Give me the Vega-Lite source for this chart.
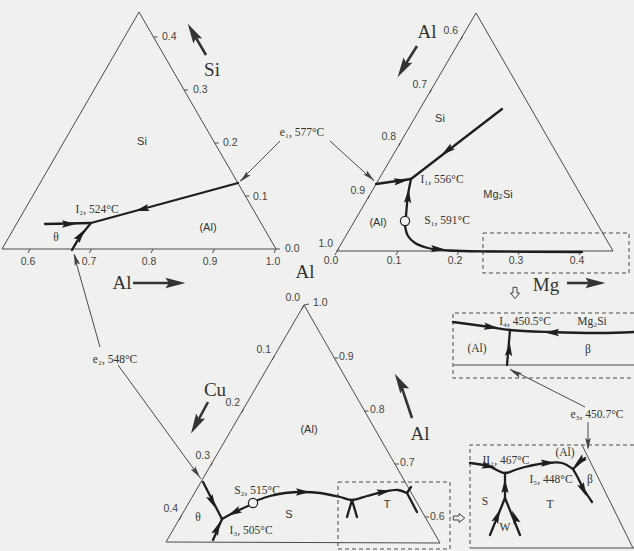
{
"$schema":"https://vega.github.io/schema/vega-lite/v6.json",
"width":634,"height":551,"padding":0,"autosize":{"type":"none"},
"background":"#f0f1ee",
"config":{"view":{"stroke":null}},
"datasets":{
"thin":[
{"id":"t1","o":0,"x":139,"y":12},{"id":"t1","o":1,"x":2,"y":249},{"id":"t1","o":2,"x":276,"y":249},{"id":"t1","o":3,"x":139,"y":12},
{"id":"t2","o":0,"x":476,"y":13},{"id":"t2","o":1,"x":337,"y":251},{"id":"t2","o":2,"x":613,"y":251},{"id":"t2","o":3,"x":476,"y":13},
{"id":"t3","o":0,"x":304,"y":305},{"id":"t3","o":1,"x":166,"y":542},{"id":"t3","o":2,"x":440,"y":543},{"id":"t3","o":3,"x":304,"y":305},
{"id":"l1","o":0,"x":280,"y":141},{"id":"l1","o":1,"x":240,"y":181},
{"id":"l2","o":0,"x":330,"y":141},{"id":"l2","o":1,"x":374,"y":181},
{"id":"l3","o":0,"x":100,"y":347},{"id":"l3","o":1,"x":74,"y":255},
{"id":"l4","o":0,"x":118,"y":365},{"id":"l4","o":1,"x":201,"y":479},
{"id":"l5","o":0,"x":585,"y":407},{"id":"l5","o":1,"x":510,"y":369},
{"id":"l6","o":0,"x":588,"y":422},{"id":"l6","o":1,"x":588,"y":448},
{"id":"i1","o":0,"x":453,"y":365},{"id":"i1","o":1,"x":634,"y":365},
{"id":"i2b","o":0,"x":470,"y":548},{"id":"i2b","o":1,"x":634,"y":548},
{"id":"i2s","o":0,"x":582,"y":445},{"id":"i2s","o":1,"x":633,"y":548},
{"id":"k1","o":0,"x":153.5,"y":37},{"id":"k1","o":1,"x":157.5,"y":37},
{"id":"k2","o":0,"x":184.1,"y":90},{"id":"k2","o":1,"x":188.1,"y":90},
{"id":"k3","o":0,"x":214.7,"y":143},{"id":"k3","o":1,"x":218.7,"y":143},
{"id":"k4","o":0,"x":245.4,"y":196},{"id":"k4","o":1,"x":249.4,"y":196},
{"id":"k5","o":0,"x":276,"y":249},{"id":"k5","o":1,"x":280,"y":249},
{"id":"b1","o":0,"x":30,"y":249},{"id":"b1","o":1,"x":28,"y":253},
{"id":"b2","o":0,"x":91.5,"y":249},{"id":"b2","o":1,"x":89.5,"y":253},
{"id":"b3","o":0,"x":153,"y":249},{"id":"b3","o":1,"x":151,"y":253},
{"id":"b4","o":0,"x":214.5,"y":249},{"id":"b4","o":1,"x":212.5,"y":253},
{"id":"b5","o":0,"x":276,"y":249},{"id":"b5","o":1,"x":274,"y":253},
{"id":"m1","o":0,"x":462.6,"y":36},{"id":"m1","o":1,"x":460.6,"y":40},
{"id":"m2","o":0,"x":431.6,"y":89},{"id":"m2","o":1,"x":429.6,"y":93},
{"id":"m3","o":0,"x":400.7,"y":142},{"id":"m3","o":1,"x":398.7,"y":146},
{"id":"m4","o":0,"x":369.7,"y":195},{"id":"m4","o":1,"x":367.7,"y":199},
{"id":"m5","o":0,"x":338.8,"y":248},{"id":"m5","o":1,"x":336.8,"y":252},
{"id":"n1","o":0,"x":337,"y":251},{"id":"n1","o":1,"x":335,"y":255},
{"id":"n2","o":0,"x":398,"y":251},{"id":"n2","o":1,"x":396,"y":255},
{"id":"n3","o":0,"x":459,"y":251},{"id":"n3","o":1,"x":457,"y":255},
{"id":"n4","o":0,"x":520,"y":251},{"id":"n4","o":1,"x":518,"y":255},
{"id":"n5","o":0,"x":581,"y":251},{"id":"n5","o":1,"x":579,"y":255},
{"id":"p0","o":0,"x":304,"y":305},{"id":"p0","o":1,"x":302,"y":309},
{"id":"p1","o":0,"x":274.3,"y":356},{"id":"p1","o":1,"x":272.3,"y":360},
{"id":"p2","o":0,"x":243.5,"y":409},{"id":"p2","o":1,"x":241.5,"y":413},
{"id":"p3","o":0,"x":212.6,"y":462},{"id":"p3","o":1,"x":210.6,"y":466},
{"id":"p4","o":0,"x":181.2,"y":516},{"id":"p4","o":1,"x":179.2,"y":520},
{"id":"q0","o":0,"x":304,"y":305},{"id":"q0","o":1,"x":309,"y":304},
{"id":"q1","o":0,"x":334.3,"y":358},{"id":"q1","o":1,"x":338.3,"y":358},
{"id":"q2","o":0,"x":364.5,"y":411},{"id":"q2","o":1,"x":368.5,"y":411},
{"id":"q3","o":0,"x":394.8,"y":464},{"id":"q3","o":1,"x":398.8,"y":464},
{"id":"q4","o":0,"x":425.1,"y":517},{"id":"q4","o":1,"x":429.1,"y":517}
],
"dashed":[
{"id":"d1","o":0,"x":483,"y":233},{"id":"d1","o":1,"x":629,"y":233},{"id":"d1","o":2,"x":629,"y":273},{"id":"d1","o":3,"x":483,"y":273},{"id":"d1","o":4,"x":483,"y":233},
{"id":"d2","o":0,"x":338,"y":482},{"id":"d2","o":1,"x":450,"y":482},{"id":"d2","o":2,"x":450,"y":549},{"id":"d2","o":3,"x":338,"y":549},{"id":"d2","o":4,"x":338,"y":482},
{"id":"d3","o":0,"x":634,"y":313},{"id":"d3","o":1,"x":453,"y":313},{"id":"d3","o":2,"x":453,"y":378},{"id":"d3","o":3,"x":634,"y":378},
{"id":"d4","o":0,"x":634,"y":445},{"id":"d4","o":1,"x":470,"y":445},{"id":"d4","o":2,"x":470,"y":548}
],
"bigline":[
{"id":"s","o":0,"x":206,"y":55},{"id":"s","o":1,"x":193.5,"y":33.6},
{"id":"a2","o":0,"x":417,"y":46},{"id":"a2","o":1,"x":403.5,"y":67.5},
{"id":"a1","o":0,"x":133,"y":283},{"id":"a1","o":1,"x":174,"y":283},
{"id":"mg","o":0,"x":567,"y":283},{"id":"mg","o":1,"x":594,"y":283},
{"id":"cu","o":0,"x":208,"y":402},{"id":"cu","o":1,"x":196.5,"y":423.5},
{"id":"a3","o":0,"x":412,"y":418},{"id":"a3","o":1,"x":400.5,"y":383.6}
],
"bighead":[
{"x":193.5,"y":33.6,"a":330},{"x":403.5,"y":67.5,"a":211},{"x":174,"y":283,"a":90},
{"x":594,"y":283,"a":90},{"x":196.5,"y":423.5,"a":209},{"x":400.5,"y":383.6,"a":330}
],
"thick":[
{"id":"c1","o":0,"x":238,"y":183},{"id":"c1","o":1,"x":91,"y":223},
{"id":"c2","o":0,"x":45,"y":224},{"id":"c2","o":1,"x":91,"y":223},
{"id":"c3","o":0,"x":72,"y":250},{"id":"c3","o":1,"x":80,"y":237},{"id":"c3","o":2,"x":91,"y":223},
{"id":"c4","o":0,"x":376,"y":184},{"id":"c4","o":1,"x":411,"y":179},
{"id":"c5","o":0,"x":502,"y":109},{"id":"c5","o":1,"x":411,"y":179},
{"id":"c6","o":0,"x":406,"y":216},{"id":"c6","o":1,"x":408,"y":195},{"id":"c6","o":2,"x":411,"y":179},
{"id":"c7","o":0,"x":405,"y":226},{"id":"c7","o":1,"x":408,"y":236},{"id":"c7","o":2,"x":415,"y":243},{"id":"c7","o":3,"x":428,"y":248},{"id":"c7","o":4,"x":450,"y":250.5},{"id":"c7","o":5,"x":490,"y":251.5},{"id":"c7","o":6,"x":582,"y":252},
{"id":"c8","o":0,"x":203,"y":482},{"id":"c8","o":1,"x":222,"y":519},
{"id":"c9","o":0,"x":248,"y":506},{"id":"c9","o":1,"x":235,"y":512},{"id":"c9","o":2,"x":222,"y":519},
{"id":"c10","o":0,"x":213,"y":540},{"id":"c10","o":1,"x":222,"y":519},
{"id":"c11","o":0,"x":258,"y":500},{"id":"c11","o":1,"x":270,"y":496},{"id":"c11","o":2,"x":285,"y":493},{"id":"c11","o":3,"x":302,"y":492},{"id":"c11","o":4,"x":320,"y":493},{"id":"c11","o":5,"x":340,"y":497},{"id":"c11","o":6,"x":352,"y":500},{"id":"c11","o":7,"x":367,"y":496},{"id":"c11","o":8,"x":383,"y":492},{"id":"c11","o":9,"x":398,"y":490},{"id":"c11","o":10,"x":407,"y":493},
{"id":"c12","o":0,"x":352,"y":500},{"id":"c12","o":1,"x":347,"y":517},
{"id":"c13","o":0,"x":352,"y":500},{"id":"c13","o":1,"x":357,"y":517},
{"id":"c14","o":0,"x":407,"y":493},{"id":"c14","o":1,"x":411,"y":487},
{"id":"c15","o":0,"x":407,"y":493},{"id":"c15","o":1,"x":417,"y":512},
{"id":"c16","o":0,"x":453,"y":322},{"id":"c16","o":1,"x":490,"y":327},{"id":"c16","o":2,"x":510,"y":330},{"id":"c16","o":3,"x":550,"y":332},{"id":"c16","o":4,"x":600,"y":333},{"id":"c16","o":5,"x":634,"y":332},
{"id":"c17","o":0,"x":507,"y":365},{"id":"c17","o":1,"x":510,"y":330},
{"id":"c18","o":0,"x":470,"y":463},{"id":"c18","o":1,"x":488,"y":466},{"id":"c18","o":2,"x":505,"y":473},{"id":"c18","o":3,"x":515,"y":470},{"id":"c18","o":4,"x":525,"y":467},{"id":"c18","o":5,"x":547,"y":463},{"id":"c18","o":6,"x":562,"y":463},{"id":"c18","o":7,"x":573,"y":469},
{"id":"c19","o":0,"x":573,"y":469},{"id":"c19","o":1,"x":585,"y":458},
{"id":"c20","o":0,"x":573,"y":469},{"id":"c20","o":1,"x":578,"y":478},{"id":"c20","o":2,"x":583,"y":488},{"id":"c20","o":3,"x":592,"y":502},
{"id":"c21","o":0,"x":505,"y":473},{"id":"c21","o":1,"x":505,"y":498},
{"id":"c22","o":0,"x":505,"y":498},{"id":"c22","o":1,"x":490,"y":535},
{"id":"c23","o":0,"x":505,"y":498},{"id":"c23","o":1,"x":520,"y":535}
],
"heads":[
{"x":143,"y":209,"a":255},{"x":68,"y":224,"a":90},{"x":80,"y":236,"a":35},
{"x":400,"y":181,"a":82},{"x":448,"y":150,"a":232},{"x":408,"y":197,"a":4},{"x":437,"y":249,"a":94},
{"x":212,"y":501,"a":153},{"x":235,"y":512,"a":243},{"x":217,"y":529,"a":23},
{"x":302,"y":492,"a":90},{"x":383,"y":492,"a":80},
{"x":490,"y":327,"a":98},{"x":553,"y":332.5,"a":270},{"x":509,"y":350,"a":5},
{"x":488,"y":466,"a":100},{"x":547,"y":463,"a":88},{"x":580,"y":461,"a":228},{"x":583,"y":489,"a":155},
{"x":505,"y":487,"a":0},{"x":497,"y":517,"a":22},{"x":515,"y":518,"a":338}
],
"lhead":[
{"x":76,"y":260,"a":344},{"x":245,"y":177,"a":225},{"x":369,"y":176,"a":132},
{"x":196,"y":472,"a":144},{"x":516,"y":373,"a":297},{"x":588,"y":443,"a":180}
],
"circles":[{"x":405,"y":221},{"x":253,"y":503}],
"hollow":[{"x":515,"y":293,"a":0},{"x":459,"y":518,"a":270}],
"tl_left":[
{"x":162,"y":37,"t":"0.4"},{"x":193,"y":90,"t":"0.3"},{"x":223,"y":143,"t":"0.2"},{"x":253,"y":197,"t":"0.1"},{"x":285,"y":249,"t":"0.0"},
{"x":313,"y":303,"t":"1.0"},{"x":339,"y":357,"t":"0.9"},{"x":370,"y":410,"t":"0.8"},{"x":400,"y":463,"t":"0.7"},{"x":430,"y":517,"t":"0.6"}
],
"tl_right":[
{"x":458,"y":31,"t":"0.6"},{"x":427,"y":85,"t":"0.7"},{"x":396,"y":137,"t":"0.8"},{"x":365,"y":191,"t":"0.9"},{"x":333,"y":244,"t":"1.0"},
{"x":300,"y":298,"t":"0.0"},{"x":271,"y":350,"t":"0.1"},{"x":240,"y":403,"t":"0.2"},{"x":210,"y":456,"t":"0.3"},{"x":178,"y":509,"t":"0.4"}
],
"tl_center":[
{"x":28,"y":262,"t":"0.6"},{"x":89,"y":262,"t":"0.7"},{"x":149,"y":262,"t":"0.8"},{"x":210,"y":262,"t":"0.9"},{"x":273,"y":262,"t":"1.0"},
{"x":331,"y":261,"t":"0.0"},{"x":394,"y":261,"t":"0.1"},{"x":455,"y":261,"t":"0.2"},{"x":516,"y":261,"t":"0.3"},{"x":577,"y":261,"t":"0.4"}
],
"phase":[
{"x":142,"y":142,"t":"Si"},{"x":208,"y":228,"t":"(Al)"},{"x":440,"y":119,"t":"Si"},{"x":498,"y":195,"t":"Mg₂Si"},
{"x":378,"y":223,"t":"(Al)"},{"x":309,"y":430,"t":"(Al)"},{"x":289,"y":515,"t":"S"},{"x":387,"y":505,"t":"T"}
],
"serif":[
{"x":97,"y":210,"t":"I₂, 524°C"},{"x":302,"y":133,"t":"e₁, 577°C"},{"x":442,"y":180,"t":"I₁, 556°C"},{"x":447,"y":221,"t":"S₁, 591°C"},
{"x":115,"y":360,"t":"e₂, 548°C"},{"x":257,"y":491,"t":"S₂, 515°C"},{"x":251,"y":531,"t":"I₃, 505°C"},
{"x":525,"y":322,"t":"I₄, 450.5°C"},{"x":592,"y":322,"t":"Mg₂Si"},{"x":477,"y":349,"t":"(Al)"},{"x":588,"y":350,"t":"β"},
{"x":597,"y":415,"t":"e₃, 450.7°C"},{"x":506,"y":461,"t":"II₁, 467°C"},{"x":565,"y":453,"t":"(Al)"},{"x":551,"y":480,"t":"I₅, 448°C"},
{"x":590,"y":480,"t":"β"},{"x":485,"y":502,"t":"S"},{"x":550,"y":505,"t":"T"},{"x":505,"y":528,"t":"W"},
{"x":56,"y":238,"t":"θ"},{"x":198,"y":518,"t":"θ"}
],
"big":[
{"x":212,"y":70,"t":"Si"},{"x":427,"y":32,"t":"Al"},{"x":122,"y":283,"t":"Al"},{"x":546,"y":285,"t":"Mg"},
{"x":305,"y":272,"t":"Al"},{"x":215,"y":390,"t":"Cu"},{"x":420,"y":434,"t":"Al"}
]
},
"encoding":{
"x":{"field":"x","type":"quantitative","scale":{"domain":[0,634],"nice":false,"zero":false},"axis":null},
"y":{"field":"y","type":"quantitative","scale":{"domain":[0,551],"nice":false,"zero":false,"reverse":true},"axis":null}
},
"layer":[
{"data":{"name":"thin"},"mark":{"type":"line","stroke":"#4a4a4a","strokeWidth":1},
 "encoding":{"detail":{"field":"id"},"order":{"field":"o","type":"quantitative"}}},
{"data":{"name":"dashed"},"mark":{"type":"line","stroke":"#4a4a4a","strokeWidth":1,"strokeDash":[4,3]},
 "encoding":{"detail":{"field":"id"},"order":{"field":"o","type":"quantitative"}}},
{"data":{"name":"bigline"},"mark":{"type":"line","stroke":"#333","strokeWidth":2.6},
 "encoding":{"detail":{"field":"id"},"order":{"field":"o","type":"quantitative"}}},
{"data":{"name":"thick"},"mark":{"type":"line","stroke":"#1e1e1e","strokeWidth":2.3,"interpolate":"catmull-rom","strokeCap":"round","strokeJoin":"round"},
 "encoding":{"detail":{"field":"id"},"order":{"field":"o","type":"quantitative"}}},
{"data":{"name":"bighead"},"mark":{"type":"point","filled":true,"opacity":1,"color":"#333","size":520,"shape":"M0,-1L0.45,0.75L0,0.45L-0.45,0.75Z"},
 "encoding":{"angle":{"field":"a","type":"quantitative","scale":null}}},
{"data":{"name":"heads"},"mark":{"type":"point","filled":true,"opacity":1,"color":"#1e1e1e","size":260,"shape":"M0,-1L0.45,0.75L0,0.45L-0.45,0.75Z"},
 "encoding":{"angle":{"field":"a","type":"quantitative","scale":null}}},
{"data":{"name":"lhead"},"mark":{"type":"point","filled":true,"opacity":1,"color":"#444","size":190,"shape":"M0,-1L0.4,0.75L0,0.45L-0.4,0.75Z"},
 "encoding":{"angle":{"field":"a","type":"quantitative","scale":null}}},
{"data":{"name":"circles"},"mark":{"type":"point","shape":"circle","filled":true,"fill":"#f0f1ee","stroke":"#222","strokeWidth":1.2,"opacity":1,"size":85}},
{"data":{"name":"hollow"},"mark":{"type":"point","filled":true,"fill":"#f0f1ee","stroke":"#444","strokeWidth":1,"opacity":1,"size":130,"shape":"M-0.35,-1L0.35,-1L0.35,0L0.8,0L0,1L-0.8,0L-0.35,0Z"},
 "encoding":{"angle":{"field":"a","type":"quantitative","scale":null}}},
{"data":{"name":"tl_left"},"mark":{"type":"text","align":"left","baseline":"middle","font":"Liberation Sans","fontSize":10.5,"color":"#444"},
 "encoding":{"text":{"field":"t"}}},
{"data":{"name":"tl_right"},"mark":{"type":"text","align":"right","baseline":"middle","font":"Liberation Sans","fontSize":10.5,"color":"#444"},
 "encoding":{"text":{"field":"t"}}},
{"data":{"name":"tl_center"},"mark":{"type":"text","align":"center","baseline":"middle","font":"Liberation Sans","fontSize":10.5,"color":"#444"},
 "encoding":{"text":{"field":"t"}}},
{"data":{"name":"phase"},"mark":{"type":"text","align":"center","baseline":"middle","font":"Liberation Sans","fontSize":11,"color":"#333"},
 "encoding":{"text":{"field":"t"}}},
{"data":{"name":"serif"},"mark":{"type":"text","align":"center","baseline":"middle","font":"Liberation Serif","fontSize":11.5,"color":"#333"},
 "encoding":{"text":{"field":"t"}}},
{"data":{"name":"big"},"mark":{"type":"text","align":"center","baseline":"middle","font":"Liberation Serif","fontSize":19,"color":"#333"},
 "encoding":{"text":{"field":"t"}}}
]
}
